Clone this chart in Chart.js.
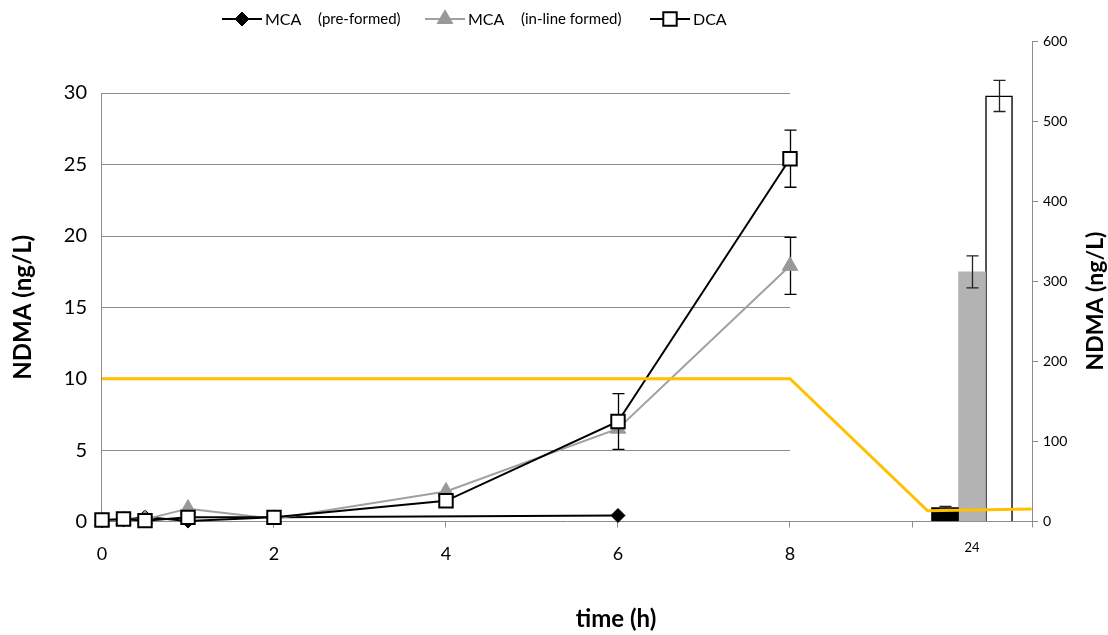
<!DOCTYPE html>
<html>
<head>
<meta charset="utf-8">
<script src="https://cdn.jsdelivr.net/npm/chart.js@4.4.1/dist/chart.umd.min.js"></script>
<style>
  html, body { margin: 0; padding: 0; background: #fff; }
  #wrap { width: 1108px; height: 635px; position: relative; }
</style>
</head>
<body>
<div id="wrap"><canvas id="c" width="1108" height="635"></canvas></div>
<script>
// Sampling times (h) for the time-course part of the plot
const timesH = [0, 0.25, 0.5, 1, 2, 4, 6, 8];

// NDMA formed (ng/L), left axis; null = not sampled
const mcaPreformed = [0.05, 0.1, 0.32, 0.03, 0.3, null, 0.42, null];
const mcaInline    = [0.05, 0.1, 0.15, 0.9, 0.2, 2.1, 6.5, 17.9];
const mcaInlineErr = [0, 0, 0, 0, 0, 0, 0, 2.0];
const dca          = [0.1, 0.17, 0.06, 0.29, 0.29, 1.45, 7.0, 25.4];
const dcaErr       = [0, 0, 0, 0, 0, 0, 1.95, 2.0];

// 24 h results (ng/L), right axis: MCA pre-formed, MCA in-line formed, DCA
const dayLabel  = '24';
const dayValues = [17.5, 312, 532];
const dayErr    = [1.5, 20, 19.5];

// Guide line (yellow)
const guideX = [0, 8, 9.6, 10.81];
const guideY = [10, 10, 0.75, 0.88];

// Tick labels
const xTickHours = [0, 2, 4, 6, 8];
const leftTicks  = [0, 5, 10, 15, 20, 25, 30];
const rightTicks = [0, 100, 200, 300, 400, 500, 600];

// Legend texts
const seriesNames = ['MCA', 'MCA', 'DCA'];
const seriesNotes = ['(pre-formed)', '(in-line formed)', ''];

// ---- axis layout: hours 0-8, then a separate slot for the 24 h bars ----
const X_END = 10.814;            // right edge of the plot in axis units
const SLOT_START = 9.419;        // tick that opens the 24 h slot
const SLOT_MID = (SLOT_START + X_END) / 2;
const LEFT_MAX = 30 * 480 / 428.5;

const FONT = 'Lato, "Open Sans", sans-serif';
const GRID = '#8c8c8c';
const LEGEND_START = [222, 425, 650];   // left end of each legend sample line

const pts = (vals, errs) => timesH
  .map((t, i) => ({ x: t, y: vals[i], err: errs ? errs[i] : 0 }))
  .filter(p => p.y !== null);

const errorBars = {
  id: 'errorBars',
  drawFor(chart, index) {
    const ds = chart.data.datasets[index];
    if (!ds.withErrors) return;
    const meta = chart.getDatasetMeta(index);
    const ys = chart.scales[ds.yAxisID];
    const ctx = chart.ctx;
    ctx.save();
    ctx.strokeStyle = ds.errColor || '#000';
    ctx.lineWidth = 1.3;
    meta.data.forEach((el, i) => {
      const d = ds.data[i];
      if (!d || !d.err) return;
      const x = Math.round(el.x) + 0.5;
      const yt = ys.getPixelForValue(d.y + d.err);
      const yb = ys.getPixelForValue(d.y - d.err);
      const cap = ds.capHalf || 6;
      ctx.beginPath();
      ctx.moveTo(x, yt); ctx.lineTo(x, yb);
      ctx.moveTo(x - cap, yt); ctx.lineTo(x + cap, yt);
      ctx.moveTo(x - cap, yb); ctx.lineTo(x + cap, yb);
      ctx.stroke();
    });
    ctx.restore();
  },
  beforeDatasetDraw(chart, args) {
    if (chart.data.datasets[args.index].type === 'line') this.drawFor(chart, args.index);
  },
  afterDatasetDraw(chart, args) {
    if (chart.data.datasets[args.index].type === 'bar') this.drawFor(chart, args.index);
  }
};

const frame = {
  id: 'frame',
  beforeDatasetsDraw(chart) {
    const { ctx, scales: { x, y } } = chart;
    const x0 = x.getPixelForValue(0);
    const x8 = x.getPixelForValue(8);
    ctx.save();
    ctx.strokeStyle = GRID;
    ctx.lineWidth = 1;
    ctx.beginPath();
    leftTicks.forEach(v => {
      if (v === 0) return;
      const py = Math.round(y.getPixelForValue(v)) + 0.5;
      ctx.moveTo(x0, py); ctx.lineTo(x8, py);
    });
    const ax = Math.round(x0) - 0.5;
    ctx.moveTo(ax, y.getPixelForValue(30));
    ctx.lineTo(ax, y.getPixelForValue(0));
    ctx.stroke();
    ctx.restore();
  },
  afterDraw(chart) {
    const { ctx, scales: { x, y } } = chart;
    ctx.save();
    ctx.fillStyle = '#000';
    ctx.textAlign = 'center';
    ctx.textBaseline = 'middle';

    // 24 h slot label
    ctx.font = `13px ${FONT}`;
    ctx.fillText(dayLabel, x.getPixelForValue(SLOT_MID), 548);

    // axis titles
    ctx.font = `bold 24px ${FONT}`;
    ctx.fillText('time (h)', 616, 619);

    ctx.save();
    ctx.translate(23, (y.getPixelForValue(0) + y.getPixelForValue(30)) / 2);
    ctx.rotate(-Math.PI / 2);
    ctx.font = `bold 24px ${FONT}`;
    ctx.fillText('NDMA (ng/L)', 0, 0);
    ctx.restore();

    ctx.save();
    ctx.translate(1096, 301);
    ctx.rotate(-Math.PI / 2);
    ctx.font = `bold 23px ${FONT}`;
    ctx.fillText('NDMA (ng/L)', 0, 0);
    ctx.restore();

    // legend: line + marker, series name, note
    const ly = 19;
    ctx.textAlign = 'left';
    chart.data.datasets
      .filter(ds => ds.legendIndex !== undefined)
      .sort((a, b) => a.legendIndex - b.legendIndex)
      .forEach(ds => {
        const k = ds.legendIndex;
        const lx = LEGEND_START[k];
        ctx.strokeStyle = ds.borderColor;
        ctx.lineWidth = 2;
        ctx.beginPath();
        ctx.moveTo(lx, ly); ctx.lineTo(lx + 40, ly);
        ctx.stroke();
        ctx.fillStyle = ds.pointBackgroundColor;
        ctx.strokeStyle = ds.pointBorderColor;
        ctx.lineWidth = ds.pointBorderWidth;
        Chart.helpers.drawPoint(ctx, {
          pointStyle: ds.pointStyle, radius: ds.legendRadius,
          borderWidth: ds.pointBorderWidth, rotation: 0
        }, lx + 20, ly);
        ctx.fillStyle = '#000';
        ctx.font = `16px ${FONT}`;
        ctx.fillText(seriesNames[k], lx + 43, ly + 1);
        if (seriesNotes[k]) {
          ctx.font = `15px ${FONT}`;
          ctx.fillText(seriesNotes[k], lx + 96, ly);
        }
      });
    ctx.restore();
  }
};

const datasets = [
  {
    type: 'line', label: 'guide', order: 0, clip: false,
    data: guideX.map((v, i) => ({ x: v, y: guideY[i] })),
    borderColor: '#FFC000', borderWidth: 3, pointRadius: 0, tension: 0,
    yAxisID: 'y'
  },
  {
    type: 'line', label: 'DCA', order: 1, legendIndex: 2, withErrors: true, capHalf: 6, clip: false,
    data: pts(dca, dcaErr),
    borderColor: '#000', borderWidth: 2, tension: 0,
    pointStyle: 'rect', pointRadius: 9.5, legendRadius: 9.5,
    pointBackgroundColor: '#fff', pointBorderColor: '#000', pointBorderWidth: 2,
    yAxisID: 'y'
  },
  {
    type: 'line', label: 'MCA in-line formed', order: 2, legendIndex: 1, withErrors: true, capHalf: 6, clip: false,
    data: pts(mcaInline, mcaInlineErr),
    borderColor: '#a0a0a0', borderWidth: 2, tension: 0,
    pointStyle: 'triangle', pointRadius: 9, legendRadius: 9,
    pointBackgroundColor: '#999', pointBorderColor: '#999', pointBorderWidth: 1,
    yAxisID: 'y'
  },
  {
    type: 'line', label: 'MCA pre-formed', order: 3, legendIndex: 0, clip: false,
    data: pts(mcaPreformed, null),
    borderColor: '#000', borderWidth: 2, tension: 0,
    pointStyle: 'rectRot', pointRadius: 7, legendRadius: 7,
    pointBackgroundColor: '#000', pointBorderColor: '#000', pointBorderWidth: 1,
    yAxisID: 'y'
  }
];

const barFills = ['#000', '#b3b3b3', '#fff'];
const barBorders = [0, 0, 1.5];
dayValues.forEach((v, i) => {
  datasets.push({
    type: 'bar', label: seriesNames[i] + ' 24 h', order: 4 + i, withErrors: true, capHalf: 6,
    errColor: '#222',
    data: [{ x: SLOT_MID, y: v, err: dayErr[i] }],
    backgroundColor: barFills[i], borderColor: '#000', borderWidth: barBorders[i],
    borderSkipped: 'bottom', barThickness: 27, grouped: true,
    yAxisID: 'y2'
  });
});

new Chart(document.getElementById('c'), {
  type: 'line',
  data: { datasets },
  options: {
    responsive: false,
    animation: false,
    devicePixelRatio: 1,
    layout: { padding: { top: 41.5, left: 0, right: 0, bottom: 0 } },
    plugins: { legend: { display: false }, tooltip: { enabled: false }, title: { display: false } },
    scales: {
      x: {
        type: 'linear', min: 0, max: X_END, offset: false,
        afterBuildTicks: s => { s.ticks = [...xTickHours, SLOT_START, X_END].map(v => ({ value: v })); },
        afterFit: s => { s.height = 113.5; },
        ticks: {
          autoSkip: false, maxRotation: 0, padding: 16, color: '#000',
          font: { family: FONT, size: 18 },
          callback: v => (xTickHours.includes(v) ? String(v) : '')
        },
        grid: { drawOnChartArea: false, drawTicks: true, tickLength: 6, color: GRID, offset: false },
        border: { display: true, color: GRID, width: 1 }
      },
      y: {
        position: 'left', min: 0, max: LEFT_MAX,
        afterBuildTicks: s => { s.ticks = leftTicks.map(v => ({ value: v })); },
        afterFit: s => { s.width = 102; },
        ticks: { padding: 15, color: '#000', font: { family: FONT, size: 20 } },
        grid: { display: false, drawTicks: false, tickLength: 0 },
        border: { display: false }
      },
      y2: {
        position: 'right', min: 0, max: 600,
        afterBuildTicks: s => { s.ticks = rightTicks.map(v => ({ value: v })); },
        afterFit: s => { s.width = 76; },
        ticks: { padding: 5, color: '#000', font: { family: FONT, size: 14 } },
        grid: { drawOnChartArea: false, drawTicks: true, tickLength: 6, color: GRID },
        border: { display: true, color: GRID, width: 1 }
      }
    }
  },
  plugins: [frame, errorBars]
});
</script>
</body>
</html>
